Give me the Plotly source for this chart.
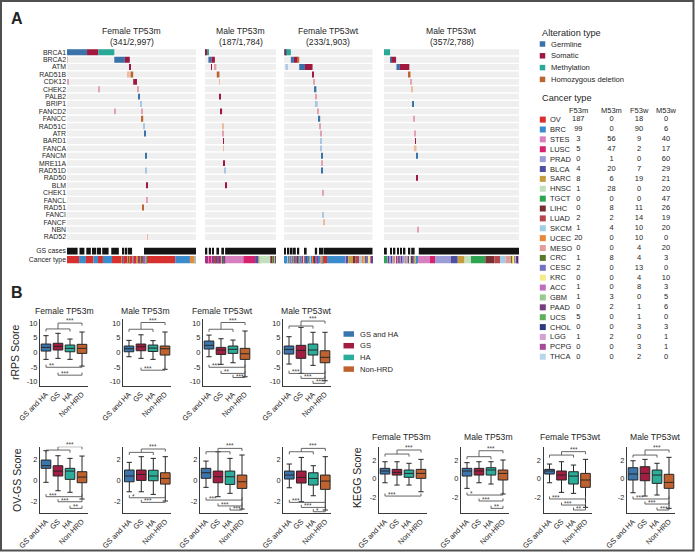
import plotly.graph_objects as go

W, H = 695, 552


def fx(p):
    return p / W


def fy(p):
    return 1 - p / H


FONT = "Liberation Sans, Arial, sans-serif"
TXT = "#262626"

# ---------------------------------------------------------------- Panel A data
GENES = ["BRCA1", "BRCA2", "ATM", "RAD51B", "CDK12", "CHEK2", "PALB2", "BRIP1", "FANCD2", "FANCC",
         "RAD51C", "ATR", "BARD1", "FANCA", "FANCM", "MRE11A", "RAD51D", "RAD50", "BLM", "CHEK1",
         "FANCL", "RAD51", "FANCI", "FANCF", "NBN", "RAD52"]
GROUP_NAMES = ["Female TP53m", "Male TP53m", "Female TP53wt", "Male TP53wt"]
GROUP_N = [341, 187, 233, 357]
GROUP_TOTAL = ["2,997", "1,784", "1,903", "2,788"]

ALT_TYPES = ["Germline", "Somatic", "Methylation", "Homozygous deletion"]
ALT_LEGEND_CODES = ["G", "S", "M", "D"]
# upper case = strong call, lower case = faint call
ALT_COLOR = {"G": "#3a72aa", "S": "#a0183f", "M": "#2aa898", "D": "#be6430",
             "g": "#a9c6e3", "s": "#e3a2b2", "m": "#a3dcd4", "d": "#ebbb9c"}

# (gene, first sample, number of samples, type)
ALT_F53M = [("BRCA1", 0, 53, "G"), ("BRCA1", 53, 30, "S"), ("BRCA1", 83, 42, "M"),
            ("BRCA2", 0, 2, "d"), ("BRCA2", 125, 28, "G"), ("BRCA2", 153, 13, "S"),
            ("ATM", 166, 2.5, "S"), ("RAD51B", 161, 5, "d"), ("RAD51B", 168, 7, "D"),
            ("CDK12", 1, 2, "s"), ("CDK12", 175, 10, "S"), ("CHEK2", 83, 2, "s"), ("CHEK2", 186, 2.5, "s"),
            ("PALB2", 188, 5, "G"), ("BRIP1", 193, 3, "g"), ("FANCD2", 125, 2, "s"), ("FANCD2", 196, 2.5, "s"),
            ("FANCC", 198, 3.5, "D"), ("RAD51C", 202, 2.5, "g"), ("ATR", 204, 2.5, "G"),
            ("FANCM", 206.5, 2.5, "G"), ("RAD51D", 208, 2.5, "g"), ("BLM", 209.5, 2.5, "S"),
            ("FANCL", 210.5, 2.5, "s"), ("RAD51", 199.5, 2.5, "D"), ("RAD52", 211.5, 2.5, "d")]
ALT_M53M = [("BRCA1", 0, 2.5, "G"), ("BRCA1", 2.5, 3, "S"), ("BRCA1", 5.5, 3, "M"),
            ("BRCA2", 9, 8, "G"), ("BRCA2", 17, 9, "S"), ("ATM", 16, 2, "S"), ("ATM", 26, 4, "s"),
            ("RAD51B", 31, 7, "D"), ("CDK12", 37, 2, "d"), ("PALB2", 39, 2.5, "S"),
            ("FANCD2", 42, 3, "S"), ("RAD51C", 45.5, 2, "d"), ("ATR", 46.5, 2.5, "s"),
            ("BARD1", 48, 2, "S"), ("FANCA", 48, 2, "d"), ("MRE11A", 50, 2.5, "S"),
            ("RAD51D", 51, 2, "g"), ("BLM", 53, 2.5, "S")]
ALT_F53W = [("BRCA1", 0, 3, "G"), ("BRCA1", 3, 3, "S"), ("BRCA1", 6, 12, "M"),
            ("BRCA2", 18, 8, "G"), ("BRCA2", 26, 9, "S"), ("BRCA2", 35, 5, "D"),
            ("ATM", 4, 6, "g"), ("ATM", 40, 15, "G"), ("ATM", 55, 20, "S"),
            ("RAD51B", 75, 3.5, "S"), ("CDK12", 78, 2.5, "s"), ("CHEK2", 79, 6, "G"),
            ("PALB2", 83, 3, "s"), ("BRIP1", 84, 4.5, "g"), ("FANCD2", 87.5, 2.5, "s"),
            ("FANCC", 91, 4, "G"), ("RAD51C", 94, 2.5, "s"), ("ATR", 95, 2.5, "s"),
            ("BARD1", 95.5, 2.5, "g"), ("FANCA", 96.5, 3, "g"), ("FANCM", 98, 2.5, "G"),
            ("MRE11A", 98.5, 2.5, "s"), ("RAD51D", 99.5, 3, "G"), ("CHEK1", 100.5, 2.5, "s"),
            ("FANCI", 101.5, 3, "g"), ("FANCF", 103, 2.5, "d")]
ALT_M53W = [("BRCA1", 0, 16, "M"), ("BRCA2", 16, 4, "G"), ("BRCA2", 20, 12, "S"),
            ("ATM", 33, 9, "G"), ("ATM", 42, 25, "S"), ("RAD51B", 66, 4, "D"),
            ("CDK12", 69, 3, "s"), ("CHEK2", 72, 4, "d"), ("BRIP1", 75, 4, "G"),
            ("FANCC", 79, 2.5, "s"), ("ATR", 80, 2.5, "s"), ("BARD1", 82, 2.5, "S"),
            ("FANCA", 79, 7, "d"), ("FANCM", 85, 2.5, "G"), ("RAD50", 85, 2.5, "S"),
            ("NBN", 88, 2, "s")]
ALTERATIONS = [ALT_F53M, ALT_M53M, ALT_F53W, ALT_M53W]

# GS-positive cases: (first sample, number of samples)
GS_F53M = [(0, 28), (33, 13), (51, 12), (66, 11), (79, 11), (93, 17), (117, 20), (145.5, 5),
           (152.5, 7), (163, 3), (169, 3), (205, 2), (210.5, 3.5), (214, 127)]
GS_M53M = [(0, 6), (10, 6), (19, 3), (30, 7), (43, 7), (53, 134)]
GS_F53W = [(0, 5), (9, 5), (17.5, 5), (26, 5), (35, 5), (55, 4.5), (81, 6), (92, 4.5), (99, 4), (104, 129)]
GS_M53W = [(0, 7.5), (16.5, 4.5), (25.5, 4.5), (34.5, 4.5), (43, 4.5), (52, 4.5), (65, 4.5), (72, 9), (92, 265)]
GS_CASES = [GS_F53M, GS_M53M, GS_F53W, GS_M53W]

# cancer type of consecutive samples: (cancer, number of samples)
CT_F53M = [("OV", 32), ("BRC", 18), ("OV", 20), ("BRC", 12), ("OV", 13), ("BRC", 24), ("OV", 24),
           ("UCEC", 3), ("OV", 4), ("BRC", 2), ("STES", 1), ("OV", 3), ("UCEC", 2), ("LUSC", 2), ("SARC", 2),
           ("OV", 3), ("UCS", 2), ("BLCA", 2), ("OV", 3), ("UCEC", 3), ("BRC", 2), ("CESC", 1), ("LUAD", 1),
           ("OV", 3), ("LUSC", 2), ("SARC", 2), ("UCEC", 2), ("SKCM", 1), ("BLCA", 2), ("OV", 3), ("UCS", 2),
           ("STES", 1), ("ACC", 1), ("OV", 3), ("LUSC", 1), ("SARC", 1), ("BRC", 2), ("CRC", 1), ("CESC", 1),
           ("LUAD", 1), ("STES", 1), ("OV", 2), ("UCS", 1),
           ("OV", 74), ("BRC", 39), ("UCEC", 10), ("SARC", 3), ("GBM", 1), ("HNSC", 1), ("LGG", 1)]
CT_M53M = [("LUSC", 3), ("STES", 2), ("BLCA", 2), ("LUSC", 2), ("LGG", 1), ("STES", 1), ("BLCA", 2),
           ("LUSC", 3), ("SARC", 1), ("LIHC", 1), ("STES", 2), ("BLCA", 3), ("LUSC", 2), ("SKCM", 1),
           ("CRC", 1), ("PRAD", 1), ("LUSC", 2), ("BLCA", 2), ("STES", 2), ("LUAD", 1), ("SARC", 1),
           ("LUSC", 2), ("LGG", 1), ("BLCA", 2), ("HNSC", 1), ("LUSC", 2), ("GBM", 1), ("STES", 1),
           ("LIHC", 1), ("BLCA", 1), ("SKCM", 1), ("LUAD", 1), ("CRC", 1), ("SARC", 1), ("PAAD", 1),
           ("STES", 48), ("LUSC", 31), ("BLCA", 8), ("SARC", 3), ("SKCM", 2), ("HNSC", 27), ("LIHC", 6),
           ("CRC", 6), ("GBM", 2), ("PAAD", 1)]
CT_F53W = [("BRC", 3), ("CESC", 2), ("BRC", 3), ("OV", 2), ("SKCM", 1), ("BRC", 3), ("SARC", 2), ("BRC", 3),
           ("LUAD", 2), ("STES", 2), ("BRC", 3), ("UCEC", 2), ("OV", 2), ("BRC", 3), ("CESC", 2), ("LIHC", 2),
           ("BRC", 3), ("PCPG", 2), ("SARC", 2), ("BRC", 3), ("ACC", 2), ("OV", 2), ("THCA", 2), ("BRC", 4),
           ("LUAD", 2), ("BLCA", 2), ("STES", 2), ("BRC", 3), ("CHOL", 2), ("SARC", 2), ("SKCM", 2), ("BRC", 4),
           ("UCEC", 2), ("OV", 3), ("LIHC", 2), ("BRC", 3), ("CESC", 1), ("CRC", 2), ("LUSC", 2), ("BRC", 4),
           ("MESO", 1), ("KRC", 1), ("STES", 1), ("LUAD", 1), ("SARC", 1), ("ACC", 1), ("BLCA", 1), ("UCS", 1),
           ("PCPG", 1),
           ("OV", 9), ("BRC", 48), ("STES", 4), ("BLCA", 4), ("SARC", 12), ("LIHC", 7), ("LUAD", 9), ("SKCM", 7),
           ("UCEC", 6), ("MESO", 3), ("CRC", 2), ("CESC", 8), ("KRC", 3), ("ACC", 5), ("PAAD", 1), ("CHOL", 1)]
CT_M53W = [("TGCT", 9),
           ("PRAD", 3), ("BLCA", 2), ("STES", 2), ("PRAD", 3), ("SKCM", 2), ("BLCA", 2), ("MESO", 2), ("PRAD", 3),
           ("STES", 2), ("KRC", 2), ("BLCA", 2), ("LUSC", 2), ("PRAD", 3), ("LUAD", 2), ("BRC", 2), ("STES", 2),
           ("BLCA", 3), ("SKCM", 2), ("PRAD", 3), ("HNSC", 2), ("GBM", 1), ("SARC", 2), ("STES", 2), ("MESO", 2),
           ("PRAD", 3), ("BLCA", 2), ("KRC", 2), ("LUAD", 2), ("SKCM", 2), ("LIHC", 2), ("STES", 1), ("LUSC", 1),
           ("PAAD", 2), ("BRC", 1), ("HNSC", 1), ("SARC", 1), ("CRC", 1), ("ACC", 1), ("GBM", 1), ("CHOL", 1),
           ("PCPG", 1),
           ("BRC", 3), ("STES", 31), ("LUSC", 14), ("PRAD", 42), ("BLCA", 18), ("SARC", 18), ("HNSC", 17),
           ("TGCT", 38), ("LIHC", 24), ("LUAD", 15), ("SKCM", 14), ("MESO", 16), ("CRC", 2), ("KRC", 6),
           ("ACC", 2), ("GBM", 3), ("PAAD", 4), ("CHOL", 2), ("LGG", 1)]
CANCER_RUNS = [CT_F53M, CT_M53M, CT_F53W, CT_M53W]

CANCERS = ["OV", "BRC", "STES", "LUSC", "PRAD", "BLCA", "SARC", "HNSC", "TGCT", "LIHC", "LUAD", "SKCM",
           "UCEC", "MESO", "CRC", "CESC", "KRC", "ACC", "GBM", "PAAD", "UCS", "CHOL", "LGG", "PCPG", "THCA"]
CANCER_COLORS = ["#d7302f", "#3a8ccc", "#d77fbf", "#d6226f", "#9c9cd6", "#4d4fa3", "#c59d3e", "#c2e0bd",
                 "#2fa552", "#7b2f33", "#b5474f", "#9fcde6", "#e5883a", "#e59d9b", "#5b7a29", "#7373c5",
                 "#f4ea86", "#c26ec0", "#98c98e", "#763e7d", "#5fae5c", "#2d3c80", "#d5a0d2", "#a64a9c",
                 "#b7d6ee"]
COUNT_HEAD = ["F53m", "M53m", "F53w", "M53w"]
COUNT_F53M = [187, 99, 3, 5, 0, 4, 8, 1, 0, 0, 2, 1, 20, 0, 1, 2, 0, 1, 1, 0, 5, 0, 1, 0, 0]
COUNT_M53M = [0, 0, 56, 47, 1, 20, 6, 28, 0, 8, 2, 4, 0, 0, 8, 0, 0, 0, 3, 2, 0, 0, 2, 0, 0]
COUNT_F53W = [18, 90, 9, 2, 0, 7, 19, 0, 0, 11, 14, 10, 10, 4, 4, 13, 4, 8, 0, 1, 1, 3, 0, 3, 2]
COUNT_M53W = [0, 6, 40, 17, 60, 29, 21, 20, 47, 26, 19, 20, 0, 20, 3, 0, 10, 3, 5, 6, 0, 3, 1, 1, 0]
COUNTS = [COUNT_F53M, COUNT_M53M, COUNT_F53W, COUNT_M53W]

# ---------------------------------------------------------------- Panel B data
BOX_GROUPS = ["GS and HA", "GS", "HA", "Non-HRD"]
BOX_COLORS = ["#3a76ad", "#a31c41", "#2aad9a", "#c0622f"]
SUBPLOT_TITLES = ["Female TP53m", "Male TP53m", "Female TP53wt", "Male TP53wt"]
# per subgroup: (lower whisker, q1, median, q3, upper whisker) for the 4 groups
RRPS_STATS = [
    [(-2.4, 0.44, 1.7, 2.84, 5.7), (-2.05, 0.8, 2.05, 3.1, 6.5), (-2.4, 0.2, 1.37, 2.5, 4.55), (-4.7, -0.35, 1.37, 2.74, 6.95)],
    [(-1.5, 0.2, 1.23, 2.16, 4.1), (-2.05, 0.55, 1.9, 2.84, 6.0), (-2.4, 0.3, 1.47, 2.5, 4.0), (-5.8, -0.92, 1.23, 2.16, 6.95)],
    [(-1.5, 1.13, 2.4, 3.87, 5.9), (-4.1, -0.7, 0.8, 1.7, 4.66), (-3.55, -0.35, 1.03, 2.16, 4.2), (-8.35, -2.4, -0.48, 1.37, 7.3)],
    [(-4.0, -0.58, 1.0, 2.16, 5.35), (-7.2, -2.05, 0.68, 2.4, 8.55), (-4.45, -0.92, 0.8, 2.84, 6.85), (-9.7, -3.55, -1.7, 0.55, 6.85)],
]
OVGS_STATS = [
    [(-0.15, 1.18, 1.43, 1.97, 2.86), (-0.95, 0.45, 0.92, 1.43, 2.38), (-1.1, 0.13, 0.92, 1.18, 2.13), (-1.74, -0.19, 0.35, 0.86, 2.35)],
    [(-1.05, -0.1, 0.45, 1.02, 1.75), (-1.05, 0.03, 0.6, 1.02, 2.29), (-1.3, 0.0, 0.45, 1.0, 2.13), (-1.93, -0.32, 0.22, 0.76, 2.29)],
    [(-0.63, 0.23, 0.76, 1.18, 1.87), (-1.52, -0.19, 0.38, 0.92, 2.76), (-1.2, -0.35, 0.38, 0.92, 2.13), (-2.7, -0.73, -0.1, 0.54, 2.45)],
    [(-0.67, 0.16, 0.54, 0.92, 1.59), (-2.0, -0.22, 0.32, 0.92, 2.22), (-1.43, -0.41, 0.22, 0.76, 1.43), (-2.79, -0.82, -0.03, 0.54, 2.29)],
]
KEGG_STATS = [
    [(-0.44, 0.51, 0.84, 1.13, 1.85), (-0.69, 0.4, 0.69, 1.02, 1.85), (-0.69, 0.15, 0.58, 0.95, 1.68), (-1.42, 0.04, 0.58, 1.02, 2.11)],
    [(-1.05, 0.29, 0.84, 1.13, 1.75), (-0.44, 0.4, 0.84, 1.13, 1.85), (-0.58, 0.4, 0.95, 1.2, 1.85), (-1.67, -0.14, 0.58, 0.95, 2.04)],
    [(-0.44, 0.51, 0.84, 1.02, 1.6), (-1.49, -0.14, 0.4, 0.84, 1.85), (-1.6, -0.58, 0.29, 0.76, 1.49), (-3.12, -0.94, -0.14, 0.58, 2.11)],
    [(-1.53, -0.14, 0.51, 1.2, 1.96), (-1.89, -0.22, 0.58, 1.31, 2.11), (-1.78, -0.51, 0.4, 0.95, 1.68), (-3.23, -1.05, -0.4, 0.48, 2.33)],
]
# significance: top = (HRD bracket level, HRD vs Non-HRD level, label); bottom = (group, level, label) vs Non-HRD
RRPS_SIG = [
    {"top": (8.0, 10.0, "***"), "bottom": [(0, -5.1, "**"), (1, -7.8, "***")]},
    {"top": (7.9, 10.2, "***"), "bottom": [(1, -6.1, "***")]},
    {"top": (7.9, 10.2, "***"), "bottom": [(0, -5.1, "***"), (1, -7.2, "**"), (2, -8.6, "***")]},
    {"top": (9.0, 10.7, "***"), "bottom": [(0, -7.2, "***"), (1, -8.9, "***"), (2, -10.6, "***")]},
]
OVGS_SIG = [
    {"top": (2.92, 3.24, "***"), "bottom": [(0, -1.52, "***"), (1, -2.0, "***"), (2, -2.63, "**")]},
    {"top": (2.7, 3.02, "***"), "bottom": [(0, -1.62, "*"), (1, -2.06, "***")]},
    {"top": (2.76, 3.08, "***"), "bottom": [(0, -1.84, "***"), (1, -2.4, "***"), (2, -2.79, "***")]},
    {"top": (2.76, 3.08, "***"), "bottom": [(0, -2.06, "***"), (1, -2.54, "***"), (2, -2.95, "*")]},
]
KEGG_SIG = [
    {"top": (2.69, 3.13, "***"), "bottom": [(0, -1.89, "***")]},
    {"top": (2.4, 3.05, "***"), "bottom": [(0, -1.78, "*"), (1, -2.43, "***"), (2, -3.23, "**")]},
    {"top": (2.58, 2.95, "***"), "bottom": [(0, -2.21, "***"), (1, -2.87, "***"), (2, -3.41, "**")]},
    {"top": (2.58, 3.13, "***"), "bottom": [(0, -2.21, "***"), (1, -2.76, "***"), (2, -3.41, "***")]},
]

# ---------------------------------------------------------------- layout constants
GROUP_PX = [(67, 196), (205, 276), (284, 372.7), (384, 519)]
GS_Y, CT_Y = 26.9, 28.07
ONCO_Y_PX = (48.6, 263.4)

fig = go.Figure()
layout = {}
annotations = []


def ann(x, y, text, size=9, xanchor="center", yanchor="middle", bold=False, color=TXT, angle=0):
    annotations.append(dict(x=fx(x), y=fy(y), xref="paper", yref="paper", text=f"<b>{text}</b>" if bold else text,
                            showarrow=False, xanchor=xanchor, yanchor=yanchor, textangle=angle,
                            font=dict(size=size, color=color, family=FONT)))


# ---------------------------------------------------------------- Panel A: oncoprint
layout["yaxis"] = dict(domain=[fy(ONCO_Y_PX[1]), fy(ONCO_Y_PX[0])], range=[28.57, -0.5], anchor="x",
                       tickvals=list(range(len(GENES))) + [GS_Y, CT_Y], ticktext=GENES + ["GS cases", "Cancer type"],
                       tickfont=dict(size=6.9, color=TXT), ticks="", showgrid=False, zeroline=False,
                       showline=False, automargin=False)
cancer_color = dict(zip(CANCERS, CANCER_COLORS))
for g in range(4):
    xa = "x" if g == 0 else f"x{g + 1}"
    n = GROUP_N[g]
    layout["xaxis" if g == 0 else f"xaxis{g + 1}"] = dict(
        domain=[fx(GROUP_PX[g][0]), fx(GROUP_PX[g][1])], range=[0, n], visible=False, anchor="y",
        automargin=False)
    fig.add_trace(go.Bar(orientation="h", y=list(range(len(GENES))), x=[n] * len(GENES), base=[0] * len(GENES),
                         width=0.8, marker=dict(color="#efefef", line=dict(width=0)), xaxis=xa, yaxis="y",
                         hoverinfo="skip", showlegend=False))
    alts = ALTERATIONS[g]
    for code in ALT_COLOR:
        items = [a for a in alts if a[3] == code]
        if not items:
            continue
        fig.add_trace(go.Bar(orientation="h", y=[GENES.index(a[0]) for a in items], x=[a[2] for a in items],
                             base=[a[1] for a in items], width=0.8,
                             marker=dict(color=ALT_COLOR[code], line=dict(width=0)),
                             xaxis=xa, yaxis="y", showlegend=False, hoverinfo="skip"))
    gs = GS_CASES[g]
    fig.add_trace(go.Bar(orientation="h", y=[GS_Y] * len(gs), x=[s[1] for s in gs], base=[s[0] for s in gs],
                         width=0.9, marker=dict(color="#141414", line=dict(width=0)), xaxis=xa, yaxis="y",
                         showlegend=False, hoverinfo="skip"))
    runs = CANCER_RUNS[g]
    starts, acc = [], 0
    for _, cnt in runs:
        starts.append(acc)
        acc += cnt
    fig.add_trace(go.Bar(orientation="h", y=[CT_Y] * len(runs), x=[r[1] for r in runs], base=starts, width=1.0,
                         marker=dict(color=[cancer_color[r[0]] for r in runs], line=dict(width=0)),
                         xaxis=xa, yaxis="y", showlegend=False, hoverinfo="skip"))
    cx = (GROUP_PX[g][0] + GROUP_PX[g][1]) / 2
    ann(cx, 31, GROUP_NAMES[g], size=8.6)
    ann(cx, 42, f"({GROUP_N[g]}/{GROUP_TOTAL[g]})", size=8.6)

ann(9, 18, "A", size=16, xanchor="left", bold=True, color="#222")
ann(9, 292, "B", size=16, xanchor="left", bold=True, color="#222")

# ---------------------------------------------------------------- Panel B: box plots
PANELS = [
    dict(stats=RRPS_STATS, sig=RRPS_SIG, x0=[40, 123, 203, 283], y=(319, 386), yr=[-11.5, 11.4],
         ytv=[-10, -5, 0, 5, 10], ytt=["-10", "-5", "0", "5", "10"], d=0.9,
         titles=[64, 145, 222, 306.7], title_y=310.7),
    dict(stats=OVGS_STATS, sig=OVGS_SIG, x0=[40, 123.3, 200, 283.3], y=(446.7, 513.3), yr=[-3.1, 3.24],
         ytv=[-2, 0, 2], ytt=["-2", "0", "2"], d=0.25, titles=None, title_y=None),
    dict(stats=KEGG_STATS, sig=KEGG_SIG, x0=[379, 461, 543.5, 627], y=(446.7, 513.3), yr=[-3.77, 3.49],
         ytv=[-2, 0, 2], ytt=["-2", "0", "2"], d=0.28, titles=[401.7, 488.3, 570, 655], title_y=436.7),
]
SUB_W = 48
k = 0
for p in PANELS:
    for s in range(4):
        xi, yi = 5 + k, 2 + k
        xa, ya = f"x{xi}", f"y{yi}"
        x0 = p["x0"][s]
        layout[f"xaxis{xi}"] = dict(domain=[fx(x0), fx(x0 + SUB_W)], range=[-0.5, 3.5], anchor=ya,
                                    tickvals=[0, 1, 2, 3], ticktext=BOX_GROUPS, tickangle=-45,
                                    tickfont=dict(size=7.4, color=TXT), ticks="", showline=True,
                                    linecolor="#3a3a3a", linewidth=1.3, showgrid=False, zeroline=False,
                                    automargin=False)
        layout[f"yaxis{yi}"] = dict(domain=[fy(p["y"][1]), fy(p["y"][0])], range=p["yr"], anchor=xa,
                                    tickvals=p["ytv"], ticktext=p["ytt"], tickfont=dict(size=7.4, color=TXT),
                                    ticks="", showline=True, linecolor="#3a3a3a", linewidth=1.3,
                                    showgrid=False, zeroline=False, automargin=False)
        for i, st in enumerate(p["stats"][s]):
            lo, q1, med, q3, hi = st
            fig.add_trace(go.Box(x=[i], lowerfence=[lo], q1=[q1], median=[med], q3=[q3], upperfence=[hi],
                                 fillcolor=BOX_COLORS[i], line=dict(color="#262626", width=1), width=0.8,
                                 whiskerwidth=0.55, boxpoints=False, xaxis=xa, yaxis=ya, showlegend=False,
                                 hoverinfo="skip"))
        sig = p["sig"][s]
        d = p["d"]
        a, b, lab = sig["top"]
        xs = [0, 0, 2, 2, None, 1, 1, 3, 3]
        ys = [a - d, a, a, a - d, None, a, b, b, b - d]
        for (gi, c, _) in sig["bottom"]:
            xs += [None, gi, gi, 3, 3]
            ys += [None, c + d, c, c, c + d]
        fig.add_trace(go.Scatter(x=xs, y=ys, mode="lines", line=dict(color="#555555", width=0.9),
                                 xaxis=xa, yaxis=ya, showlegend=False, hoverinfo="skip", cliponaxis=False))
        annotations.append(dict(x=2, y=b, xref=xa, yref=ya, text=lab, showarrow=False, yanchor="bottom",
                                yshift=-3, font=dict(size=6.5, color="#444", family=FONT)))
        for (gi, c, lb) in sig["bottom"]:
            annotations.append(dict(x=gi + 0.08, y=c, xref=xa, yref=ya, text=lb, showarrow=False,
                                    xanchor="left", yanchor="bottom", yshift=-4,
                                    font=dict(size=6.5, color="#444", family=FONT)))
        if p["titles"]:
            ann(p["titles"][s], p["title_y"], SUBPLOT_TITLES[s], size=8.6)
        k += 1

ann(15, 352, "rRPS Score", size=10.5, angle=-90)
ann(17, 480, "OV-GS Score", size=10.5, angle=-90)
ann(357, 478, "KEGG Score", size=10.5, angle=-90)

# ---------------------------------------------------------------- legends (overlay axis in pixel units)
layout["xaxis17"] = dict(domain=[0, 1], range=[0, W], visible=False, anchor="y14", fixedrange=True)
layout["yaxis14"] = dict(domain=[0, 1], range=[H, 0], visible=False, anchor="x17", fixedrange=True)

alt_rows = [44 + 11.8 * i for i in range(len(ALT_TYPES))]
fig.add_trace(go.Scatter(x=[542.5] * len(ALT_TYPES), y=alt_rows, mode="markers",
                         marker=dict(symbol="square", size=5.5, color=[ALT_COLOR[c] for c in ALT_LEGEND_CODES]),
                         xaxis="x17", yaxis="y14", showlegend=False, hoverinfo="skip"))
ann(540, 33, "Alteration type", size=9.2, xanchor="left")
for i, t in enumerate(ALT_TYPES):
    ann(549, alt_rows[i], t, size=7.6, xanchor="left")

ann(540, 98.3, "Cancer type", size=9.2, xanchor="left")
COL_X = [578.3, 611.5, 639, 666]
for j, h in enumerate(COUNT_HEAD):
    ann(COL_X[j], 110, h, size=7.5)
ct_rows = [119.6 + 9.88 * i for i in range(len(CANCERS))]
fig.add_trace(go.Scatter(x=[542.8] * len(CANCERS), y=ct_rows, mode="markers",
                         marker=dict(symbol="square", size=6, color=CANCER_COLORS),
                         xaxis="x17", yaxis="y14", showlegend=False, hoverinfo="skip"))
for i, cname in enumerate(CANCERS):
    ann(548, ct_rows[i], cname, size=7.5, xanchor="left")
for j in range(4):
    fig.add_trace(go.Scatter(x=[COL_X[j]] * len(CANCERS), y=ct_rows, mode="text",
                             text=[str(v) for v in COUNTS[j]], textposition="middle center",
                             textfont=dict(size=7.5, color=TXT, family=FONT),
                             xaxis="x17", yaxis="y14", showlegend=False, hoverinfo="skip"))

box_rows = [334 + 11.7 * i for i in range(len(BOX_GROUPS))]
for i, gname in enumerate(BOX_GROUPS):
    fig.add_trace(go.Scatter(x=[343.5, 354], y=[box_rows[i]] * 2, mode="lines",
                             line=dict(color=BOX_COLORS[i], width=5.5), xaxis="x17", yaxis="y14",
                             showlegend=False, hoverinfo="skip"))
    ann(357.5, box_rows[i], gname, size=7.6, xanchor="left")

fig.update_layout(
    width=W, height=H, margin=dict(l=0, r=0, t=0, b=0), template="none",
    paper_bgcolor="white", plot_bgcolor="rgba(0,0,0,0)",
    font=dict(family=FONT, color=TXT), barmode="overlay", boxmode="overlay", showlegend=False,
    annotations=annotations,
    shapes=[dict(type="rect", xref="paper", yref="paper", x0=fx(1), x1=fx(693.5), y0=fy(550.5), y1=fy(1),
                 line=dict(color="#505050", width=2), fillcolor="rgba(0,0,0,0)")],
    **layout,
)
fig.write_html("out.html", config={"displayModeBar": False},
               post_script="document.body.style.margin='0px';document.body.style.padding='0px';")
